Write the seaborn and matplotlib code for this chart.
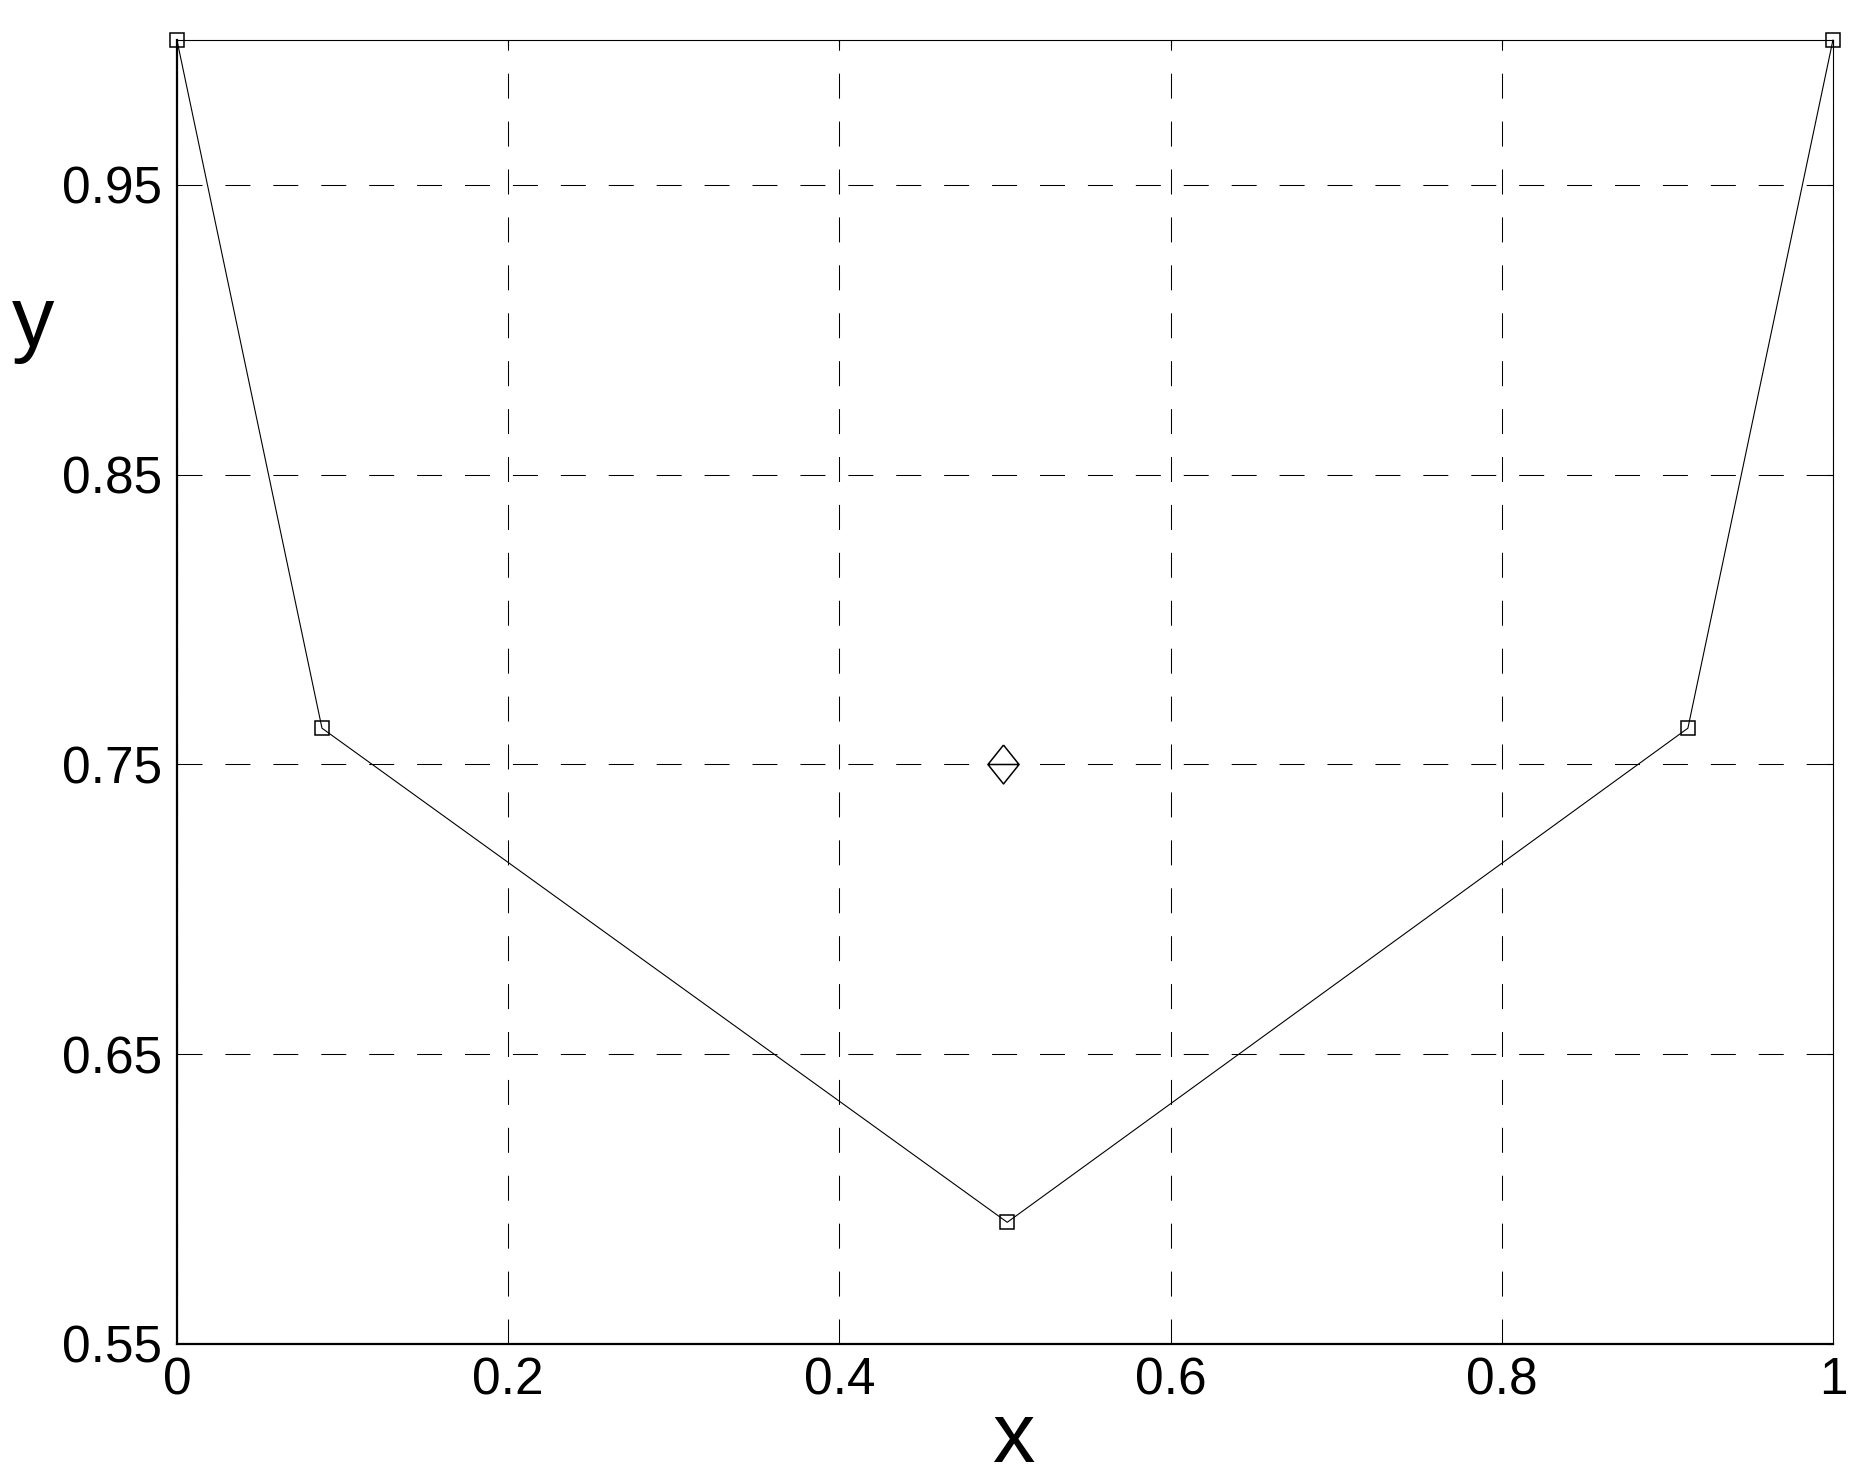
import numpy as np
import pandas as pd
import matplotlib
matplotlib.use('Agg')
import matplotlib.pyplot as plt
import seaborn as sns
from matplotlib.path import Path

# data
x_vals = [0.0, 0.0876, 0.5014, 0.9124, 1.0]
y_vals = [1.0, 0.7625, 0.592, 0.7625, 1.0]
center_x = [0.4988]
center_y = [0.75]

x_ticks = [0, 0.2, 0.4, 0.6, 0.8, 1]
x_ticklabels = ['0', '0.2', '0.4', '0.6', '0.8', '1']
y_ticks = [0.55, 0.65, 0.75, 0.85, 0.95]
y_ticklabels = ['0.55', '0.65', '0.75', '0.85', '0.95']

df = pd.DataFrame({'x': x_vals, 'y': y_vals})
df_c = pd.DataFrame({'x': center_x, 'y': center_y})

sns.set_style('white')
plt.rcParams['font.family'] = ['Liberation Sans', 'DejaVu Sans']
plt.rcParams['text.color'] = 'black'
plt.rcParams['axes.labelcolor'] = 'black'

fig = plt.figure(figsize=(18.74, 14.8), dpi=100)
ax = fig.add_axes([0.0944, 0.0919, 0.8837, 0.8811])

# polyline with square markers
sns.lineplot(data=df, x='x', y='y', sort=False, estimator=None, ax=ax,
             color='black', lw=0.8, marker='s', markersize=10.5, clip_on=False,
             markerfacecolor='none', markeredgecolor='black', markeredgewidth=1.1)

# diamond with a horizontal bar
diamond = Path([(0, 0.5), (0.4, 0), (0, -0.5), (-0.4, 0), (0, 0.5), (-0.4, 0), (0.4, 0)],
               [Path.MOVETO, Path.LINETO, Path.LINETO, Path.LINETO, Path.LINETO,
                Path.MOVETO, Path.LINETO])
sns.lineplot(data=df_c, x='x', y='y', estimator=None, ax=ax, color='black', lw=0,
             marker=diamond, markersize=28, markerfacecolor='none',
             markeredgecolor='black', markeredgewidth=1.1)

ax.set_xlim(0, 1)
ax.set_ylim(0.55, 1.0)
ax.set_xticks(x_ticks)
ax.set_xticklabels(x_ticklabels)
ax.set_yticks(y_ticks)
ax.set_yticklabels(y_ticklabels)

ax.set_axisbelow(True)
ax.grid(True, color='black', linestyle=(0, (24, 22)), linewidth=0.75)

ax.tick_params(direction='in', length=4, width=0.8, top=True, right=True,
               labelsize=37, colors='black')
ax.tick_params(axis='x', pad=9)
ax.tick_params(axis='y', pad=11)

for side in ['left', 'bottom']:
    ax.spines[side].set_linewidth(1.6)
for side in ['top', 'right']:
    ax.spines[side].set_linewidth(0.8)
for s in ax.spines.values():
    s.set_color('black')

ax.set_xlabel('x', fontsize=61, va='baseline', color='black')
ax.xaxis.set_label_coords(0.505, -0.0905)
ax.set_ylabel('y', fontsize=61, rotation=0, va='baseline', ha='center', color='black')
ax.yaxis.set_label_coords(-0.0867, 0.765)

fig.savefig('out.png', dpi=100, facecolor='white')
